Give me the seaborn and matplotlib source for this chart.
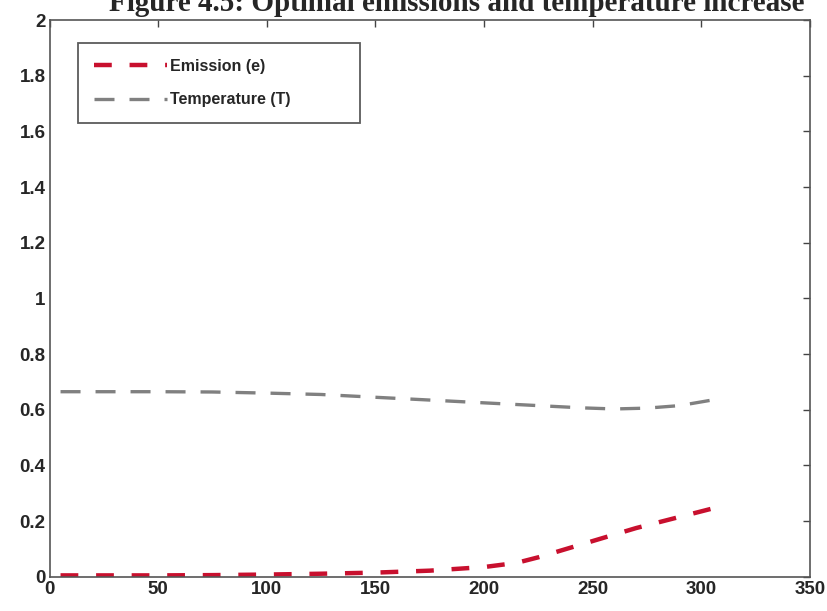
import numpy as np
import pandas as pd
import matplotlib
matplotlib.use("Agg")
import matplotlib.pyplot as plt
import seaborn as sns

# values
years = [5, 25, 50, 75, 100, 125, 150, 175, 200, 215, 225, 240, 255, 270, 285, 305]
emission = [0.005, 0.005, 0.005, 0.006, 0.008, 0.011, 0.015, 0.022, 0.035, 0.05, 0.07, 0.105, 0.14, 0.175, 0.205, 0.245]
temp_years = [5, 25, 50, 75, 100, 125, 150, 175, 200, 225, 245, 260, 275, 290, 305]
temperature = [0.665, 0.665, 0.665, 0.664, 0.66, 0.655, 0.645, 0.635, 0.625, 0.615, 0.607, 0.603, 0.606, 0.615, 0.635]

sns.set_style("white")
plt.rcParams['font.family'] = ['Liberation Sans', 'DejaVu Sans']

fig = plt.figure(figsize=(8.28, 6.11), dpi=100)
ax = fig.add_axes([0.060, 0.056, 0.918, 0.911])

df_e = pd.DataFrame({'t': years, 'v': emission})
df_t = pd.DataFrame({'t': temp_years, 'v': temperature})
sns.lineplot(data=df_e, x='t', y='v', ax=ax, color='#c8102e', lw=3.2,
             dashes=False, label='Emission (e)')
sns.lineplot(data=df_t, x='t', y='v', ax=ax, color='#808080', lw=2.4,
             dashes=False, label='Temperature (T)')
ax.lines[0].set_dashes([4, 4])
ax.lines[1].set_dashes([6, 4.5])

ax.set_xlim(0, 350)
ax.set_ylim(0, 2)
ax.set_xticks(np.arange(0, 351, 50))
ax.set_yticks(np.arange(0, 2.01, 0.2))
ax.set_yticklabels(['0', '0.2', '0.4', '0.6', '0.8', '1', '1.2', '1.4', '1.6', '1.8', '2'])
ax.set_xlabel('')
ax.set_ylabel('')
ax.tick_params(direction='in', length=5, width=1, top=True, right=True,
               labelsize=13.5, color='#444444', pad=3)
for lab in ax.get_xticklabels() + ax.get_yticklabels():
    lab.set_fontweight('bold')
for s in ax.spines.values():
    s.set_color('#555555')
    s.set_linewidth(1.2)

leg = ax.legend(loc='upper left', bbox_to_anchor=(0.037, 0.959, 0.371, 0.0),
                mode='expand', fontsize=11.5, frameon=True, fancybox=False,
                edgecolor='#333333', handlelength=4.6, handletextpad=0.2,
                borderpad=1.0, labelspacing=1.15, borderaxespad=0)
leg.get_frame().set_linewidth(1.3)
for t in leg.get_texts():
    t.set_fontweight('bold')

fig.text(0.552, 0.995, 'Figure 4.5: Optimal emissions and temperature increase',
         ha='center', va='center', fontsize=21, fontweight='bold',
         family=['Liberation Serif', 'DejaVu Serif'])

fig.savefig('out.png', dpi=100)
